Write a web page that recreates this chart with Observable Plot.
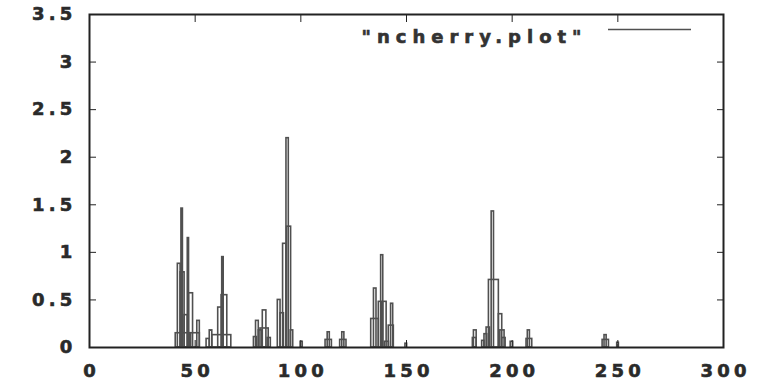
<!DOCTYPE html>
<html><head><meta charset="utf-8">
<script src="https://cdn.jsdelivr.net/npm/d3@7"></script>
<script src="https://cdn.jsdelivr.net/npm/@observablehq/plot@0.6"></script>
<style>
body{margin:0;background:#fff}
#chart text{stroke:#2a2a2a;stroke-width:0.6px;paint-order:stroke}
</style>
</head><body><div id="chart"></div>
<script>
// step outlines of "ncherry.plot": each bar spans [barStart, barEnd] up to barValue
const barStart = [40.8, 41.8, 43.1, 43.5, 45.0, 46.5, 47.1, 48.1, 51.0,
  55.4, 56.9, 58.1, 60.9, 62.5, 62.8,
  77.8, 78.8, 80.1, 82.0, 80.9, 84.3,
  89.1, 90.4, 91.6, 93.2, 93.5, 95.2, 99.9,
  111.7, 112.7, 118.6, 119.6,
  133.3, 134.6, 136.9, 138.0, 139.0, 139.8, 141.6, 142.7, 149.5,
  181.4, 181.9, 185.8, 186.9, 187.9, 189.0, 190.3, 193.7, 194.4, 195.3, 199.3,
  206.8, 207.4, 242.8, 243.7, 249.7];
const barEnd = [47.7, 43.1, 45.0, 44.2, 46.5, 47.1, 49.0, 52.2, 52.2,
  56.9, 58.1, 67.1, 62.8, 65.2, 63.5,
  79.2, 80.1, 81.7, 83.7, 84.8, 85.8,
  90.4, 92.0, 93.2, 94.3, 95.4, 96.4, 100.9,
  114.7, 113.7, 121.6, 120.6,
  136.9, 135.8, 138.5, 139.0, 140.6, 141.7, 144.0, 143.7, 150.3,
  183.2, 183.2, 186.9, 188.2, 189.5, 193.7, 191.4, 195.3, 196.4, 196.9, 200.5,
  209.5, 208.4, 245.8, 244.7, 250.5];
const barValue = [0.15, 0.88, 0.79, 1.46, 0.34, 1.15, 0.57, 0.15, 0.28,
  0.09, 0.18, 0.13, 0.42, 0.55, 0.95,
  0.11, 0.28, 0.18, 0.39, 0.2, 0.1,
  0.5, 0.36, 1.09, 2.2, 1.27, 0.18, 0.06,
  0.08, 0.16, 0.08, 0.16,
  0.3, 0.62, 0.48, 0.97, 0.48, 0.06, 0.23, 0.46, 0.04,
  0.1, 0.18, 0.07, 0.14, 0.21, 0.71, 1.43, 0.35, 0.18, 0.1, 0.06,
  0.09, 0.18, 0.08, 0.13, 0.05];
const xTicks = [0, 50, 100, 150, 200, 250, 300];
const yTicks = [0, 0.5, 1, 1.5, 2, 2.5, 3, 3.5];
const legendLabel = '"ncherry.plot"';

const bars = barValue.map((v, i) => ({x1: barStart[i], x2: barEnd[i], y: v}));
const ink = "#222";
const lineColor = "#505050";
const fmt = d => String(d);
const blank = () => "";
const ls = 4.2;

const plot = Plot.plot({
  width: 757, height: 384,
  marginLeft: 89, marginRight: 34, marginTop: 14, marginBottom: 37,
  style: {fontFamily: "DejaVu Sans", fontSize: "18px", fontWeight: "bold", color: "#2a2a2a", background: "#fff", letterSpacing: ls + "px"},
  x: {domain: [0, 300]},
  y: {domain: [0, 3.5]},
  marks: [
    Plot.rect(bars, {x1: "x1", x2: "x2", y1: 0, y2: "y", fill: "none", stroke: lineColor, strokeWidth: 1.6}),
    Plot.axisX({anchor: "bottom", ticks: xTicks, tickSize: 0, tickPadding: 17, tickFormat: fmt, label: null, dx: ls / 2}),
    Plot.axisY({anchor: "left", ticks: yTicks, tickSize: 0, tickPadding: 13, tickFormat: fmt, label: null}),
    Plot.axisX({anchor: "bottom", ticks: xTicks, tickSize: -7, tickFormat: blank, label: null, stroke: ink}),
    Plot.axisX({anchor: "top", ticks: xTicks, tickSize: -7, tickFormat: blank, label: null, stroke: ink}),
    Plot.axisY({anchor: "left", ticks: yTicks, tickSize: -7, tickFormat: blank, label: null, stroke: ink}),
    Plot.axisY({anchor: "right", ticks: yTicks, tickSize: -7, tickFormat: blank, label: null, stroke: ink}),
    Plot.frame({stroke: ink, strokeWidth: 2}),
    Plot.text([legendLabel], {text: d => d, frameAnchor: "top-right", textAnchor: "end", dx: -136, dy: 16, fill: "#333"}),
    Plot.ruleY([3.5], {dy: 15, insetLeft: 519, insetRight: 32, stroke: lineColor, strokeWidth: 1.4})
  ]
});
d3.select(plot).selectAll('g[aria-label="text"] text').style("letter-spacing", "6px");
document.getElementById("chart").appendChild(plot);
</script>
</body></html>
